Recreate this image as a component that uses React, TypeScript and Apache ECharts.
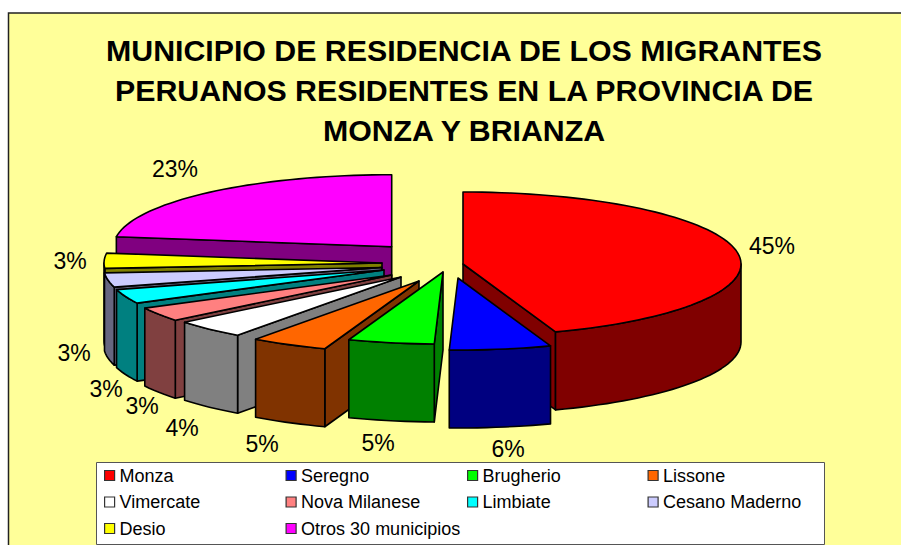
import React, { useEffect, useRef } from "react";
import * as echarts from "echarts";

const TITLE = "MUNICIPIO DE RESIDENCIA DE LOS MIGRANTES\nPERUANOS RESIDENTES EN LA PROVINCIA DE\nMONZA Y BRIANZA";

const categories = ["Monza", "Seregno", "Brugherio", "Lissone", "Vimercate", "Nova Milanese", "Limbiate", "Cesano Maderno", "Desio", "Otros 30 municipios"];
const shares = [44.6, 5.9, 5.0, 4.5, 4.2, 3.2, 3.2, 3.2, 3.4, 22.8];

const topColors = ["#FF0000", "#0000FF", "#00FF00", "#FF6600", "#FFFFFF", "#FF8080", "#00FFFF", "#CCCCFF", "#FFFF00", "#FF00FF"];
const wallColors = ["#800000", "#000080", "#008000", "#803300", "#808080", "#804040", "#008080", "#666680", "#808000", "#800080"];

// layout: slice apex positions (exploded pie), label centres, painter's order
const apexX = [463, 458, 443, 419, 401, 391.7, 384, 381.7, 382, 391.7];
const apexY = [264, 278, 272, 281, 277, 275, 270, 267.5, 263, 246.7];
const labelX = [772, 508, 378, 262, 182, 142, 106, 74, 70, 175];
const labelY = [246, 449, 443, 444, 428, 406, 389, 353, 261, 169];
const paintOrder = [9, 8, 7, 6, 5, 4, 3, 2, 0, 1];
const legendColumns = [
  ["Monza", "Vimercate", "Desio"],
  ["Seregno", "Nova Milanese", "Otros 30 municipios"],
  ["Brugherio", "Limbiate"],
  ["Lissone", "Cesano Maderno"],
];
const legendColumnX = [104, 285.5, 467, 647.5];

const RX = 278;
const RY = 72;
const DEPTH = 78;
const FONT = "'Liberation Sans', Arial, sans-serif";
const total = shares.reduce((s, v) => s + v, 0);
const startShare = (i: number) => shares.slice(0, i).reduce((s, v) => s + v, 0);

function arcPoints(ax: number, ay: number, a: number, b: number, dy = 0) {
  const pts: number[][] = [];
  const n = Math.max(2, Math.ceil((b - a) / 2));
  for (let k = 0; k <= n; k++) {
    const t = ((a + ((b - a) * k) / n) * Math.PI) / 180;
    pts.push([ax + RX * Math.sin(t), ay - RY * Math.cos(t) + dy]);
  }
  return pts;
}

function makeRenderItem(i: number) {
  return (_params: any, api: any) => {
    const value = api.value(0);
    const a = (startShare(i) / total) * 360;
    const b = a + (value / total) * 360;
    const ax = apexX[i];
    const ay = apexY[i];
    const line = { stroke: "#000", lineWidth: 1.6, lineJoin: "round" };
    const poly = (points: number[][], fill: string) => ({
      type: "polygon",
      shape: { points },
      style: { fill, ...line },
    });
    const children: any[] = [];
    const rim = (deg: number) => arcPoints(ax, ay, deg, deg + 0.001)[0];
    const wall = (deg: number) => {
      const p = rim(deg);
      return poly([[ax, ay], p, [p[0], p[1] + DEPTH], [ax, ay + DEPTH]], wallColors[i]);
    };
    if (Math.sin((a * Math.PI) / 180) < 0) children.push(wall(a));
    if (Math.sin((b * Math.PI) / 180) > 0) children.push(wall(b));
    const from = Math.max(a, 90);
    const to = Math.min(b, 270);
    if (to > from) {
      const upper = arcPoints(ax, ay, from, to);
      const lower = arcPoints(ax, ay, from, to, DEPTH).reverse();
      children.push(poly([...upper, ...lower], wallColors[i]));
    }
    children.push(poly([[ax, ay], ...arcPoints(ax, ay, a, b)], topColors[i]));
    children.push({
      type: "text",
      x: labelX[i],
      y: labelY[i],
      style: {
        text: `${Math.round(value)}%`,
        fill: "#000",
        fontSize: 23,
        fontFamily: FONT,
        align: "center",
        verticalAlign: "middle",
      },
    });
    return { type: "group", children };
  };
}

export default function App() {
  const ref = useRef<HTMLDivElement>(null);
  useEffect(() => {
    const chart = echarts.init(ref.current!, undefined, { renderer: "svg" });
    chart.setOption({
      animation: false,
      backgroundColor: "#FFFFFF",
      title: {
        text: TITLE,
        left: 459,
        top: 25,
        textAlign: "center",
        textStyle: { fontFamily: FONT, fontSize: 30.3, fontWeight: "bold", color: "#000", lineHeight: 40 },
      },
      graphic: [
        {
          type: "rect",
          z: -10,
          shape: { x: 8.5, y: 13, width: 1000, height: 1000 },
          style: { fill: "#FFFF99", stroke: "#222", lineWidth: 1.5 },
        },
        {
          type: "rect",
          z: -5,
          shape: { x: 96.5, y: 462.5, width: 728, height: 82 },
          style: { fill: "#FFFFFF", stroke: "#555", lineWidth: 1 },
        },
      ],
      legend: legendColumns.map((col, c) => ({
        data: col,
        orient: "vertical",
        left: legendColumnX[c],
        top: 466,
        padding: 0,
        itemGap: 7.5,
        itemWidth: 10,
        itemHeight: 10,
        icon: "rect",
        selectedMode: false,
        align: "left",
        itemStyle: { borderColor: "#333", borderWidth: 1.2 },
        textStyle: { fontFamily: FONT, fontSize: 18, color: "#000", padding: 0, lineHeight: 19 },
      })),
      series: paintOrder.map((i) => ({
        type: "custom",
        name: categories[i],
        coordinateSystem: "none",
        silent: true,
        itemStyle: { color: topColors[i] },
        data: [[shares[i]]],
        renderItem: makeRenderItem(i),
      })),
    });
    return () => chart.dispose();
  }, []);
  return <div ref={ref} style={{ position: "absolute", left: 0, top: 0, width: 901, height: 545 }} />;
}
